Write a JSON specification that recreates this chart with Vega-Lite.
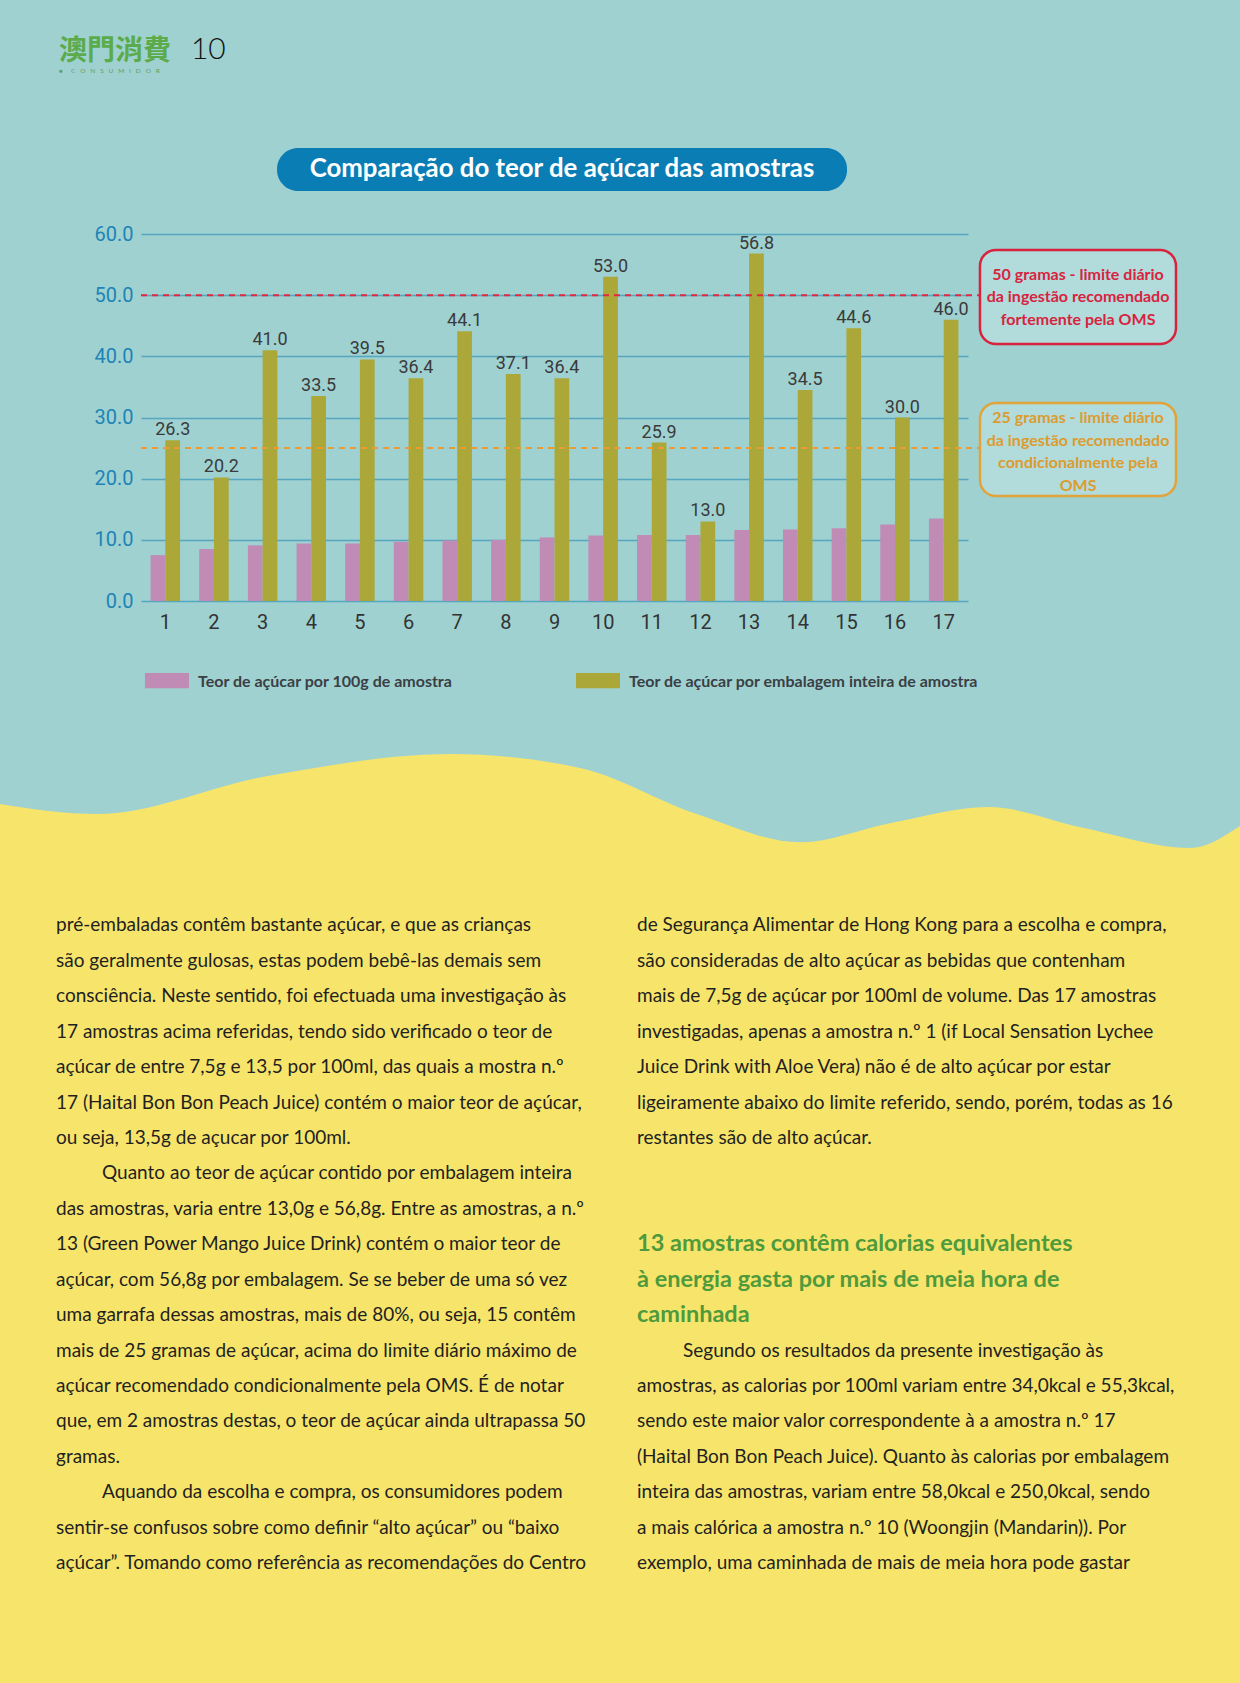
{
  "$schema": "https://vega.github.io/schema/vega-lite/v6.json",
  "width": 827,
  "height": 367,
  "autosize": {"type": "none"},
  "padding": {"left": 141, "top": 234, "right": 272, "bottom": 1082},
  "background": "#9fd1d1",
  "config": {"view": {"stroke": null}},
  "datasets": {
    "sugar": [
      {"sample": 1, "series": "Teor de açúcar por 100g de amostra", "value": 7.5},
      {"sample": 2, "series": "Teor de açúcar por 100g de amostra", "value": 8.5},
      {"sample": 3, "series": "Teor de açúcar por 100g de amostra", "value": 9.1},
      {"sample": 4, "series": "Teor de açúcar por 100g de amostra", "value": 9.4},
      {"sample": 5, "series": "Teor de açúcar por 100g de amostra", "value": 9.4},
      {"sample": 6, "series": "Teor de açúcar por 100g de amostra", "value": 9.7},
      {"sample": 7, "series": "Teor de açúcar por 100g de amostra", "value": 9.9},
      {"sample": 8, "series": "Teor de açúcar por 100g de amostra", "value": 10.0},
      {"sample": 9, "series": "Teor de açúcar por 100g de amostra", "value": 10.4},
      {"sample": 10, "series": "Teor de açúcar por 100g de amostra", "value": 10.7},
      {"sample": 11, "series": "Teor de açúcar por 100g de amostra", "value": 10.8},
      {"sample": 12, "series": "Teor de açúcar por 100g de amostra", "value": 10.8},
      {"sample": 13, "series": "Teor de açúcar por 100g de amostra", "value": 11.6},
      {"sample": 14, "series": "Teor de açúcar por 100g de amostra", "value": 11.7},
      {"sample": 15, "series": "Teor de açúcar por 100g de amostra", "value": 11.9},
      {"sample": 16, "series": "Teor de açúcar por 100g de amostra", "value": 12.5},
      {"sample": 17, "series": "Teor de açúcar por 100g de amostra", "value": 13.5},
      {"sample": 1, "series": "Teor de açúcar por embalagem inteira de amostra", "value": 26.3},
      {"sample": 2, "series": "Teor de açúcar por embalagem inteira de amostra", "value": 20.2},
      {"sample": 3, "series": "Teor de açúcar por embalagem inteira de amostra", "value": 41.0},
      {"sample": 4, "series": "Teor de açúcar por embalagem inteira de amostra", "value": 33.5},
      {"sample": 5, "series": "Teor de açúcar por embalagem inteira de amostra", "value": 39.5},
      {"sample": 6, "series": "Teor de açúcar por embalagem inteira de amostra", "value": 36.4},
      {"sample": 7, "series": "Teor de açúcar por embalagem inteira de amostra", "value": 44.1},
      {"sample": 8, "series": "Teor de açúcar por embalagem inteira de amostra", "value": 37.1},
      {"sample": 9, "series": "Teor de açúcar por embalagem inteira de amostra", "value": 36.4},
      {"sample": 10, "series": "Teor de açúcar por embalagem inteira de amostra", "value": 53.0},
      {"sample": 11, "series": "Teor de açúcar por embalagem inteira de amostra", "value": 25.9},
      {"sample": 12, "series": "Teor de açúcar por embalagem inteira de amostra", "value": 13.0},
      {"sample": 13, "series": "Teor de açúcar por embalagem inteira de amostra", "value": 56.8},
      {"sample": 14, "series": "Teor de açúcar por embalagem inteira de amostra", "value": 34.5},
      {"sample": 15, "series": "Teor de açúcar por embalagem inteira de amostra", "value": 44.6},
      {"sample": 16, "series": "Teor de açúcar por embalagem inteira de amostra", "value": 30.0},
      {"sample": 17, "series": "Teor de açúcar por embalagem inteira de amostra", "value": 46.0}
    ],
    "limits": [{"limit": 50}, {"limit": 25}],
    "wave": [
      {"xp": 0, "yp": 47.77}, {"xp": 7.82, "yp": 48.37}, {"xp": 21.61, "yp": 46.11},
      {"xp": 36.37, "yp": 44.8}, {"xp": 46.77, "yp": 45.63}, {"xp": 56.29, "yp": 48.4},
      {"xp": 64.52, "yp": 50.05}, {"xp": 71.85, "yp": 48.9}, {"xp": 79.68, "yp": 47.95},
      {"xp": 87.42, "yp": 49.2}, {"xp": 95.97, "yp": 50.39}, {"xp": 100, "yp": 49.08}
    ],
    "title": [
      {"label": "Comparação do teor de açúcar das amostras", "x1": 22.34, "x2": 68.31, "y1": 8.794, "y2": 11.349, "xc": 45.32, "yc": 10.071}
    ],
    "boxes": [
      {"limit": 50, "x1": 79.03, "x2": 94.84, "y1": 14.854, "y2": 20.44, "xc": 86.94, "yc": 16.34,
       "lines": ["50 gramas - limite diário", "da ingestão recomendado", "fortemente pela OMS"]},
      {"limit": 25, "x1": 79.03, "x2": 94.84, "y1": 23.945, "y2": 29.471, "xc": 86.94, "yc": 24.84,
       "lines": ["25 gramas - limite diário", "da ingestão recomendado", "condicionalmente pela", "OMS"]}
    ],
    "legend": [
      {"series": "Teor de açúcar por 100g de amostra", "x1": 11.69, "x2": 15.24, "y1": 39.99, "y2": 40.89, "xt": 15.97, "yt": 40.51},
      {"series": "Teor de açúcar por embalagem inteira de amostra", "x1": 46.45, "x2": 50.0, "y1": 39.99, "y2": 40.89, "xt": 50.73, "yt": 40.51}
    ],
    "header": [
      {"part": "logo", "label": "澳門消費", "xp": 4.758, "yp": 3.09},
      {"part": "sub", "label": "●\u2003\u2002C\u2003O\u2003N\u2003S\u2003U\u2003M\u2003I\u2003D\u2003O\u2003R", "xp": 4.758, "yp": 4.248},
      {"part": "page", "label": "10", "xp": 15.4, "yp": 2.971}
    ],
    "body": [
      {"col": 1, "line": 1, "kind": "p", "text": "pré-embaladas contêm bastante açúcar, e que as crianças"},
      {"col": 1, "line": 2, "kind": "p", "text": "são geralmente gulosas, estas podem bebê-las demais sem"},
      {"col": 1, "line": 3, "kind": "p", "text": "consciência. Neste sentido, foi efectuada uma investigação às"},
      {"col": 1, "line": 4, "kind": "p", "text": "17 amostras acima referidas, tendo sido verificado o teor de"},
      {"col": 1, "line": 5, "kind": "p", "text": "açúcar de entre 7,5g e 13,5 por 100ml, das quais a mostra n.º"},
      {"col": 1, "line": 6, "kind": "p", "text": "17 (Haital Bon Bon Peach Juice) contém o maior teor de açúcar,"},
      {"col": 1, "line": 7, "kind": "p", "text": "ou seja, 13,5g de açucar por 100ml."},
      {"col": 1, "line": 8, "kind": "i", "text": "Quanto ao teor de açúcar contido por embalagem inteira"},
      {"col": 1, "line": 9, "kind": "p", "text": "das amostras, varia entre 13,0g e 56,8g. Entre as amostras, a n.º"},
      {"col": 1, "line": 10, "kind": "p", "text": "13 (Green Power Mango Juice Drink) contém o maior teor de"},
      {"col": 1, "line": 11, "kind": "p", "text": "açúcar, com 56,8g por embalagem. Se se beber de uma só vez"},
      {"col": 1, "line": 12, "kind": "p", "text": "uma garrafa dessas amostras, mais de 80%, ou seja, 15 contêm"},
      {"col": 1, "line": 13, "kind": "p", "text": "mais de 25 gramas de açúcar, acima do limite diário máximo de"},
      {"col": 1, "line": 14, "kind": "p", "text": "açúcar recomendado condicionalmente pela OMS. É de notar"},
      {"col": 1, "line": 15, "kind": "p", "text": "que, em 2 amostras destas, o teor de açúcar ainda ultrapassa 50"},
      {"col": 1, "line": 16, "kind": "p", "text": "gramas."},
      {"col": 1, "line": 17, "kind": "i", "text": "Aquando da escolha e compra, os consumidores podem"},
      {"col": 1, "line": 18, "kind": "p", "text": "sentir-se confusos sobre como definir “alto açúcar” ou “baixo"},
      {"col": 1, "line": 19, "kind": "p", "text": "açúcar”. Tomando como referência as recomendações do Centro"},
      {"col": 2, "line": 1, "kind": "p", "text": "de Segurança Alimentar de Hong Kong para a escolha e compra,"},
      {"col": 2, "line": 2, "kind": "p", "text": "são consideradas de alto açúcar as bebidas que contenham"},
      {"col": 2, "line": 3, "kind": "p", "text": "mais de 7,5g de açúcar por 100ml de volume. Das 17 amostras"},
      {"col": 2, "line": 4, "kind": "p", "text": "investigadas, apenas a amostra n.º 1 (if Local Sensation Lychee"},
      {"col": 2, "line": 5, "kind": "p", "text": "Juice Drink with Aloe Vera) não é de alto açúcar por estar"},
      {"col": 2, "line": 6, "kind": "p", "text": "ligeiramente abaixo do limite referido, sendo, porém, todas as 16"},
      {"col": 2, "line": 7, "kind": "p", "text": "restantes são de alto açúcar."},
      {"col": 2, "line": 10, "kind": "h", "text": "13 amostras contêm calorias equivalentes"},
      {"col": 2, "line": 11, "kind": "h", "text": "à energia gasta por mais de meia hora de"},
      {"col": 2, "line": 12, "kind": "h", "text": "caminhada"},
      {"col": 2, "line": 13, "kind": "i", "text": "Segundo os resultados da presente investigação às"},
      {"col": 2, "line": 14, "kind": "p", "text": "amostras, as calorias por 100ml variam entre 34,0kcal e 55,3kcal,"},
      {"col": 2, "line": 15, "kind": "p", "text": "sendo este maior valor correspondente à a amostra n.º 17"},
      {"col": 2, "line": 16, "kind": "p", "text": "(Haital Bon Bon Peach Juice). Quanto às calorias por embalagem"},
      {"col": 2, "line": 17, "kind": "p", "text": "inteira das amostras, variam entre 58,0kcal e 250,0kcal, sendo"},
      {"col": 2, "line": 18, "kind": "p", "text": "a mais calórica a amostra n.º 10 (Woongjin (Mandarin)). Por"},
      {"col": 2, "line": 19, "kind": "p", "text": "exemplo, uma caminhada de mais de meia hora pode gastar"}
    ]
  },
  "layer": [
    {
      "layer": [
        {
          "data": {"name": "sugar"},
          "layer": [
            {
              "mark": {"type": "bar"},
              "encoding": {
                "x": {
                  "field": "sample", "type": "ordinal",
                  "scale": {"paddingInner": 0.394, "paddingOuter": 0.197},
                  "axis": {"orient": "bottom", "title": null, "domain": false, "ticks": false, "grid": false, "labelAngle": 0,
                           "labelFont": "Roboto", "labelFontSize": 20, "labelColor": "#333333", "labelPadding": 11}
                },
                "xOffset": {"field": "series", "type": "nominal",
                            "scale": {"domain": ["Teor de açúcar por 100g de amostra", "Teor de açúcar por embalagem inteira de amostra"]}},
                "y": {
                  "field": "value", "type": "quantitative",
                  "scale": {"domain": [0, 60], "nice": false, "zero": true},
                  "axis": {"orient": "left", "title": null, "values": [0, 10, 20, 30, 40, 50, 60], "format": ".1f",
                           "domain": false, "ticks": false, "grid": true, "gridColor": "#55a6bf", "gridWidth": 1.5,
                           "labelFont": "Roboto", "labelFontSize": 20, "labelColor": "#1d84b6", "labelPadding": 8}
                },
                "color": {"field": "series", "type": "nominal",
                          "scale": {"domain": ["Teor de açúcar por 100g de amostra", "Teor de açúcar por embalagem inteira de amostra"],
                                    "range": ["#c08bb5", "#aba839"]},
                          "legend": null}
              }
            },
            {
              "transform": [{"filter": "datum.series == 'Teor de açúcar por embalagem inteira de amostra'"}],
              "mark": {"type": "text", "font": "Roboto", "fontSize": 18, "color": "#3a3a3a", "baseline": "bottom", "align": "center", "dy": -1},
              "encoding": {
                "x": {"field": "sample", "type": "ordinal"},
                "xOffset": {"field": "series", "type": "nominal"},
                "y": {"field": "value", "type": "quantitative"},
                "text": {"field": "value", "type": "quantitative", "format": ".1f"}
              }
            }
          ]
        },
        {
          "data": {"name": "limits"},
          "mark": {"type": "rule", "strokeDash": [6, 5], "strokeWidth": 2},
          "encoding": {
            "x": {"datum": 0.5, "type": "quantitative", "scale": {"domain": [0.5, 17.5], "nice": false, "zero": false}, "axis": null},
            "x2": {"datum": 17.75},
            "y": {"field": "limit", "type": "quantitative"},
            "color": {"condition": {"test": "datum.limit == 50", "value": "#e2283f"}, "value": "#eb9b36"}
          }
        }
      ],
      "resolve": {"scale": {"x": "independent"}}
    },
    {
      "layer": [
        {
          "data": {"name": "wave"},
          "mark": {"type": "area", "interpolate": "monotone", "color": "#f7e56b"},
          "encoding": {
            "x": {"field": "xp", "type": "quantitative", "scale": {"domain": [11.371, 78.065], "nice": false, "zero": false}, "axis": null},
            "y": {"field": "yp", "type": "quantitative", "scale": {"domain": [13.904, 35.71], "nice": false, "zero": false, "reverse": true}, "axis": null},
            "y2": {"datum": 100}
          }
        },
        {
          "data": {"name": "title"},
          "mark": {"type": "rect", "cornerRadius": 21, "color": "#0b7db5"},
          "encoding": {
            "x": {"field": "x1", "type": "quantitative"}, "x2": {"field": "x2"},
            "y": {"field": "y1", "type": "quantitative"}, "y2": {"field": "y2"}
          }
        },
        {
          "data": {"name": "title"},
          "mark": {"type": "text", "font": "Lato", "fontWeight": "bold", "fontSize": 25.8, "color": "#ffffff", "align": "center", "baseline": "middle"},
          "encoding": {
            "x": {"field": "xc", "type": "quantitative"},
            "y": {"field": "yc", "type": "quantitative"},
            "text": {"field": "label"}
          }
        },
        {
          "data": {"name": "boxes"},
          "mark": {"type": "rect", "cornerRadius": 16, "fill": "#b2dbdb", "strokeWidth": 2.5},
          "encoding": {
            "x": {"field": "x1", "type": "quantitative"}, "x2": {"field": "x2"},
            "y": {"field": "y1", "type": "quantitative"}, "y2": {"field": "y2"},
            "stroke": {"condition": {"test": "datum.limit == 50", "value": "#d8233f"}, "value": "#e0a43a"}
          }
        },
        {
          "data": {"name": "boxes"},
          "mark": {"type": "text", "font": "Lato", "fontWeight": "bold", "fontSize": 16,
                   "lineHeight": 22.5, "align": "center", "baseline": "middle"},
          "encoding": {
            "x": {"field": "xc", "type": "quantitative"},
            "y": {"field": "yc", "type": "quantitative"},
            "text": {"field": "lines"},
            "color": {"condition": {"test": "datum.limit == 50", "value": "#d8233f"}, "value": "#dc9c30"}
          }
        },
        {
          "data": {"name": "legend"},
          "mark": {"type": "rect"},
          "encoding": {
            "x": {"field": "x1", "type": "quantitative"}, "x2": {"field": "x2"},
            "y": {"field": "y1", "type": "quantitative"}, "y2": {"field": "y2"},
            "color": {"field": "series", "type": "nominal", "legend": null}
          }
        },
        {
          "data": {"name": "legend"},
          "mark": {"type": "text", "font": "Lato", "fontWeight": "bold", "fontSize": 16,
                   "color": "#3a3f44", "align": "left", "baseline": "middle"},
          "encoding": {
            "x": {"field": "xt", "type": "quantitative"},
            "y": {"field": "yt", "type": "quantitative"},
            "text": {"field": "series"}
          }
        },
        {
          "data": {"name": "header"},
          "transform": [{"filter": "datum.part == 'logo'"}],
          "mark": {"type": "text", "font": "Noto Sans CJK TC", "fontWeight": "bold", "fontSize": 28, "color": "#5bab4b", "align": "left", "baseline": "middle"},
          "encoding": {
            "x": {"field": "xp", "type": "quantitative"},
            "y": {"field": "yp", "type": "quantitative"},
            "text": {"field": "label"}
          }
        },
        {
          "data": {"name": "header"},
          "transform": [{"filter": "datum.part == 'sub'"}],
          "mark": {"type": "text", "font": "Lato", "fontSize": 6.5, "color": "#5f9f60", "align": "left", "baseline": "middle"},
          "encoding": {
            "x": {"field": "xp", "type": "quantitative"},
            "y": {"field": "yp", "type": "quantitative"},
            "text": {"field": "label"}
          }
        },
        {
          "data": {"name": "header"},
          "transform": [{"filter": "datum.part == 'page'"}],
          "mark": {"type": "text", "font": "Lato", "fontWeight": 300, "fontSize": 30, "color": "#111111", "align": "left", "baseline": "middle"},
          "encoding": {
            "x": {"field": "xp", "type": "quantitative"},
            "y": {"field": "yp", "type": "quantitative"},
            "text": {"field": "label"}
          }
        }
      ]
    },
    {
      "data": {"name": "body"},
      "layer": [
        {
          "transform": [{"filter": "datum.kind == 'p'"}],
          "mark": {"type": "text", "font": "Lato", "fontSize": 19, "color": "#231f20", "align": "left", "baseline": "middle"},
          "encoding": {
            "x": {"field": "col", "type": "quantitative", "scale": {"domain": [1.1463, 2.5697], "nice": false, "zero": false}, "axis": null},
            "y": {"field": "line", "type": "quantitative", "scale": {"domain": [-18.514, -8.156], "nice": false, "zero": false, "reverse": true}, "axis": null},
            "text": {"field": "text"}
          }
        },
        {
          "transform": [{"filter": "datum.kind == 'i'"}],
          "mark": {"type": "text", "font": "Lato", "fontSize": 19, "color": "#231f20", "align": "left", "baseline": "middle", "dx": 46},
          "encoding": {
            "x": {"field": "col", "type": "quantitative"},
            "y": {"field": "line", "type": "quantitative"},
            "text": {"field": "text"}
          }
        },
        {
          "transform": [{"filter": "datum.kind == 'h'"}],
          "mark": {"type": "text", "font": "Lato", "fontWeight": "bold", "fontSize": 23.5, "color": "#4e9a3c", "align": "left", "baseline": "middle"},
          "encoding": {
            "x": {"field": "col", "type": "quantitative"},
            "y": {"field": "line", "type": "quantitative"},
            "text": {"field": "text"}
          }
        }
      ]
    }
  ],
  "resolve": {"scale": {"x": "independent", "y": "independent"}}
}
